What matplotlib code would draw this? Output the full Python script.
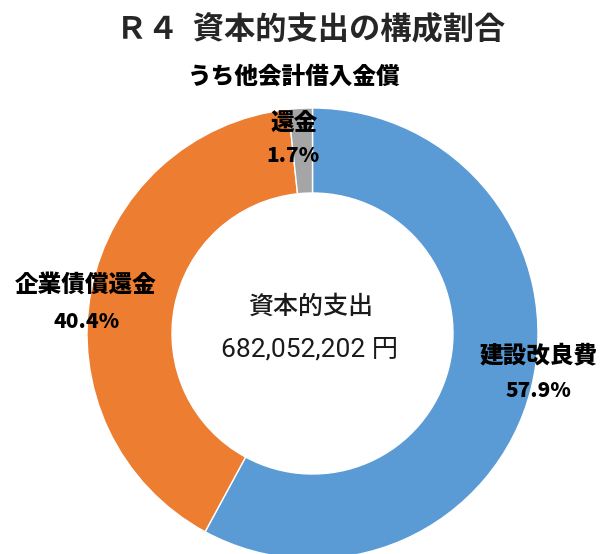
import matplotlib.pyplot as plt

plt.rcParams['font.family'] = ['Noto Sans CJK JP', 'DejaVu Sans']

# data
categories = ["建設改良費", "企業債償還金", "うち他会計借入金償\n還金"]
shares = [57.9, 40.4, 1.7]
colors = ["#5B9BD5", "#ED7D31", "#A5A5A5"]
total_label = "682,052,202 円"
center_title = "資本的支出"
title = "Ｒ４  資本的支出の構成割合"

W, H = 614, 554
R_PX = 225.5          # outer radius in pixels
CX, CY = 312.5, 333.5  # donut centre (pixels from top-left)


def px(x, y):
    # pixel position -> data coords (radius 1 = outer edge)
    return (x - CX) / R_PX, (CY - y) / R_PX


fig = plt.figure(figsize=(W / 100, H / 100), dpi=100)
ax = fig.add_axes([0, 0, 1, 1])
ax.pie(shares, colors=colors, startangle=90, counterclock=False,
       radius=1, wedgeprops=dict(width=1 - 140.5 / R_PX,
                                 edgecolor="white", linewidth=1))
x0, y1 = px(0, 0)
x1, y0 = px(W, H)
ax.set_xlim(x0, x1)
ax.set_ylim(y0, y1)
ax.set_aspect("auto")
ax.axis("off")

# title
ax.text(*px(311, 30), title, ha="center", va="center", fontsize=22.5,
        fontweight="bold", color="#262626")

# slice labels (name + percent)
label_pos = [((539, 355), (538, 391)),
             ((86, 285), (87, 322)),
             ((294, 100), (293, 156))]
for name, val, (p_name, p_val) in zip(categories, shares, label_pos):
    ax.text(*px(*p_name), name, ha="center", va="center", fontsize=17,
            fontweight="heavy", color="black", linespacing=2.2)
    ax.text(*px(*p_val), f"{val:.1f}%", ha="center", va="center",
            fontsize=15, fontweight="heavy", color="black")

# centre text
ax.text(*px(311, 307), center_title, ha="center", va="center",
        fontsize=18, fontweight="medium", color="#1a1a1a")
ax.text(*px(310, 350), total_label, ha="center", va="center",
        fontsize=19, color="#1a1a1a",
        family=["Roboto", "Noto Sans CJK JP"])

fig.savefig("out.png", dpi=100)
